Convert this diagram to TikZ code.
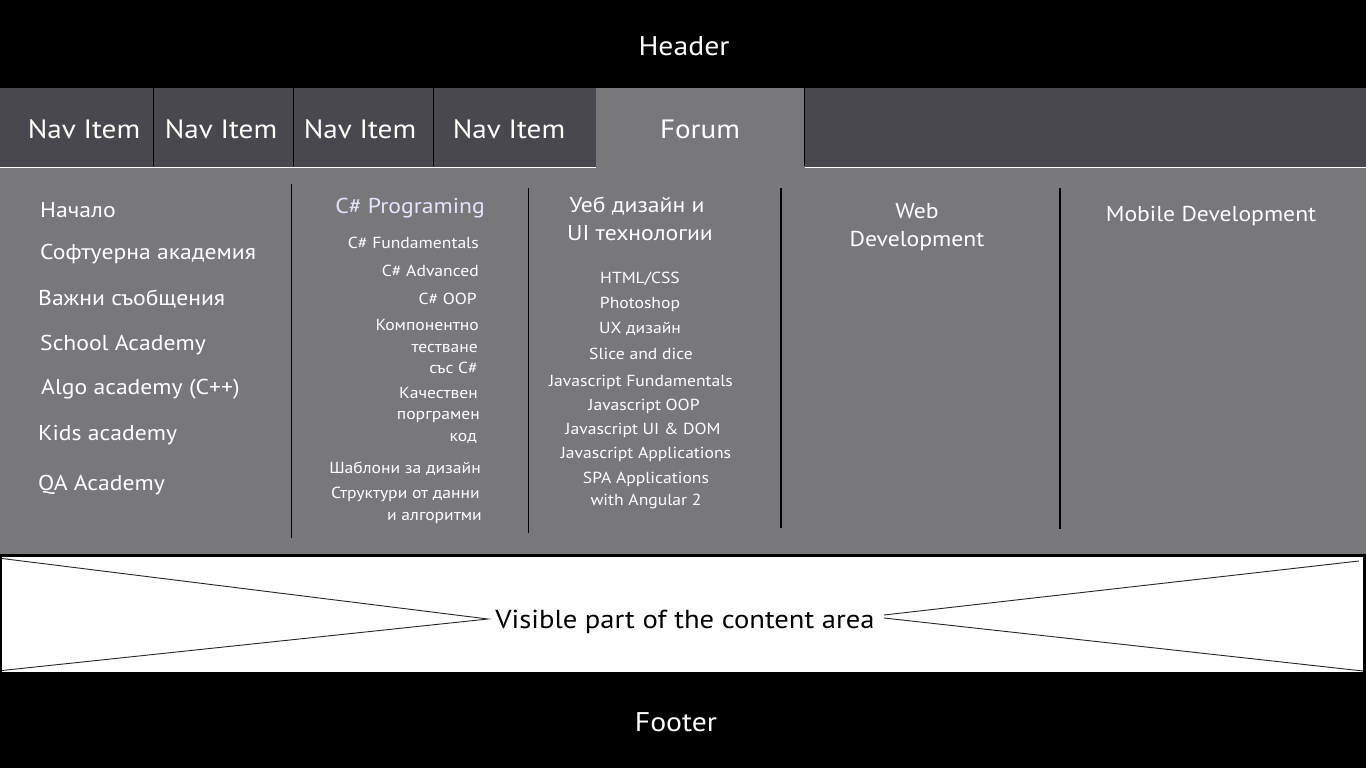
\documentclass[tikz,border=0pt]{standalone}
\usepackage{fontspec}
\setmainfont{PT Sans}[FakeStretch=1.1]
\definecolor{navdark}{HTML}{48484E}
\definecolor{panelgray}{HTML}{78777C}
\definecolor{selblue}{HTML}{E4E4FA}
\begin{document}
\begin{tikzpicture}[x=1pt,y=-1pt,
  txt/.style={inner sep=0pt, text=white},
  bigtxt/.style={txt, font=\fontsize{26.5}{30}\selectfont},
  midtxt/.style={txt, font=\fontsize{21.5}{25}\selectfont},
  smalltxt/.style={txt, font=\fontsize{16}{19}\selectfont},
  hftxt/.style={txt, font=\fontsize{27}{30}\selectfont},
  sep/.style={black, line width=1pt},
  colsep/.style={black, line width=1.6pt},
  xline/.style={black!85, line width=0.9pt}
]
\useasboundingbox (0,0) rectangle (1366,768);
% bands
\fill[black] (0,0) rectangle (1366,88);
\fill[navdark] (0,88) rectangle (1366,168);
\fill[panelgray] (0,168) rectangle (1366,554);
\fill[panelgray] (596,88) rectangle (805,168);
\draw[white, line width=1.5pt] (0,167.5) -- (596,167.5);
\draw[white, line width=1.5pt] (805,167.5) -- (1366,167.5);
\draw[sep] (153.5,88) -- (153.5,166);
\draw[sep] (293.5,88) -- (293.5,166);
\draw[sep] (433.5,88) -- (433.5,166);
\draw[sep] (804.5,88) -- (804.5,166);
\fill[black] (0,554) rectangle (1366,557);
\fill[white] (0,557) rectangle (1366,672);
\fill[black] (0,557) rectangle (1.5,672);
\fill[black] (1363,557) rectangle (1366,672);
\fill[black] (0,672) rectangle (1366,768);

% header / footer
\node[hftxt, anchor=base] (header) at (684,56) {Header};
\node[hftxt, anchor=base] (footer) at (676,731) {Footer};

% nav
\node[bigtxt, anchor=base] (nav1) at (84,139) {Nav Item};
\node[bigtxt, anchor=base] (nav2) at (221,139) {Nav Item};
\node[bigtxt, anchor=base] (nav3) at (360,139) {Nav Item};
\node[bigtxt, anchor=base] (nav4) at (509,138) {Nav Item};
\node[bigtxt, anchor=base] (forum) at (700,139) {Forum};

% column separators
\draw[sep, line width=1.3pt] (291.5,184) -- (291.5,538);
\draw[sep, line width=1.3pt] (528.5,188) -- (528.5,533);
\draw[colsep] (781,188) -- (781,528);
\draw[colsep] (1060,188) -- (1060,529);

% column 1
\node[midtxt, anchor=base west] (c1a) at (40,217) {Начало};
\node[midtxt, anchor=base west] (c1b) at (40,259) {Софтуерна академия};
\node[midtxt, anchor=base west] (c1c) at (38,305) {Важни съобщения};
\node[midtxt, anchor=base west] (c1d) at (40,350) {School Academy};
\node[midtxt, anchor=base west] (c1e) at (41,394) {Algo academy (C++)};
\node[midtxt, anchor=base west] (c1f) at (38,440) {Kids academy};
\node[midtxt, anchor=base west] (c1g) at (38,490) {QA Academy};

% column 2
\node[midtxt, text=selblue, anchor=base] (c2h) at (410,213) {C\# Programing};
\node[smalltxt, anchor=base east] (c2a) at (479,248) {C\# Fundamentals};
\node[smalltxt, anchor=base east] (c2b) at (479,276) {C\# Advanced};
\node[smalltxt, anchor=base east] (c2c) at (477,304) {C\# OOP};
\node[smalltxt, anchor=base east] (c2d) at (479,330) {Компонентно};
\node[smalltxt, anchor=base east] (c2e) at (478,352) {тестване};
\node[smalltxt, anchor=base east] (c2f) at (478,373) {със C\#};
\node[smalltxt, anchor=base east] (c2g) at (478,398) {Качествен};
\node[smalltxt, anchor=base east] (c2i) at (480,419) {порграмен};
\node[smalltxt, anchor=base east] (c2j) at (477,441) {код};
\node[smalltxt, anchor=base east] (c2k) at (481,473) {Шаблони за дизайн};
\node[smalltxt, anchor=base east] (c2l) at (480,498) {Структури от данни};
\node[smalltxt, anchor=base east] (c2m) at (482,520) {и алгоритми};

% column 3
\node[midtxt, anchor=base] (c3h1) at (637,212) {Уеб дизайн и};
\node[midtxt, anchor=base] (c3h2) at (640,240) {UI технологии};
\node[smalltxt, anchor=base] (c3a) at (640,283) {HTML/CSS};
\node[smalltxt, anchor=base] (c3b) at (640,308) {Photoshop};
\node[smalltxt, anchor=base] (c3c) at (640,333) {UX дизайн};
\node[smalltxt, anchor=base] (c3d) at (641,359) {Slice and dice};
\node[smalltxt, anchor=base] (c3e) at (641,386) {Javascript Fundamentals};
\node[smalltxt, anchor=base] (c3f) at (644,410) {Javascript OOP};
\node[smalltxt, anchor=base] (c3g) at (643,434) {Javascript UI \& DOM};
\node[smalltxt, anchor=base] (c3i) at (646,458) {Javascript Applications};
\node[smalltxt, anchor=base] (c3j) at (646,483) {SPA Applications};
\node[smalltxt, anchor=base] (c3k) at (646,505) {with Angular 2};

% column 4/5
\node[midtxt, anchor=base] (c4a) at (917,218) {Web};
\node[midtxt, anchor=base] (c4b) at (917,246) {Development};
\node[midtxt, anchor=base] (c5a) at (1211,221) {Mobile Development};

% content area
\node[inner sep=0pt, text=black, font=\fontsize{26}{30}\selectfont, anchor=base] (vis) at (685,628) {Visible part of the content area};
\coordinate (tl) at (2,558.5);
\coordinate (bl) at (2,670.5);
\coordinate (tr) at (1359,561);
\coordinate (br) at (1363,671);
\coordinate (lm) at (488,619);
\coordinate (rm1) at (884,615);
\coordinate (rm2) at (884,618);
\draw[xline] (tl) -- (lm) -- (bl);
\draw[xline] (tr) -- (rm1);
\draw[xline] (rm2) -- (br);
\end{tikzpicture}
\end{document}
